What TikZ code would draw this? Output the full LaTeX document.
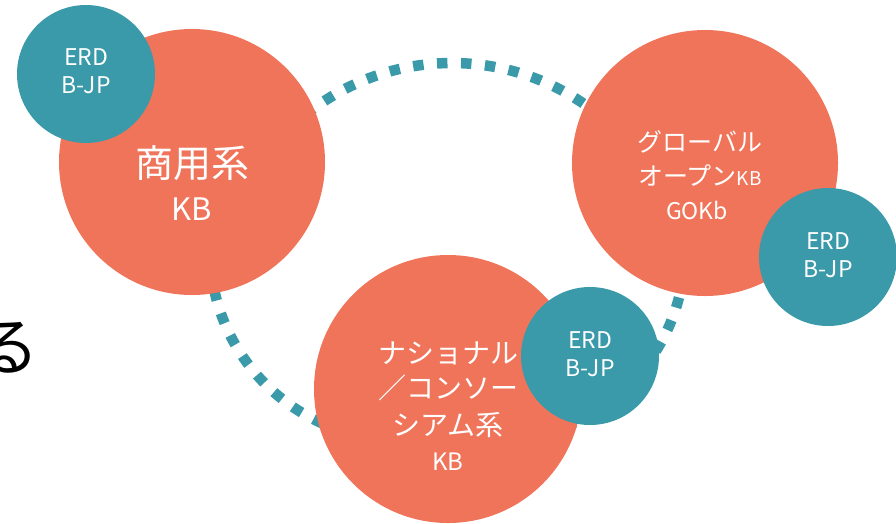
\documentclass[tikz,border=0pt]{standalone}
\usepackage{fontspec}
\setmainfont{Noto Sans CJK JP}
\definecolor{kborange}{HTML}{EF745A}
\definecolor{erdteal}{HTML}{3A9AA9}
\begin{document}
\begin{tikzpicture}[x=1pt,y=-1pt,
  kb/.style={circle,fill=kborange,minimum size=#1,inner sep=0pt},
  erd/.style={circle,fill=erdteal,minimum size=138pt,inner sep=0pt},
  lbl/.style={text=white,inner sep=0pt,anchor=center},
  dots/.style={draw=erdteal,line width=10.5pt,dash pattern=on 10.5pt off 13.5pt}]
\useasboundingbox (0,0) rectangle (896,523);
% partial character at the left edge
\node[inner sep=0pt,anchor=east,font=\fontsize{64}{70}\selectfont] (ru) at (40,348) {る};
% dotted arcs
\coordinate (ctop) at (452,296);
\coordinate (cleft) at (400,250);
\coordinate (cright) at (495,250);
\draw[dots] (ctop) ++(225:233) arc[start angle=225,end angle=315,radius=233];
\draw[dots] (cleft) ++(175:190) arc[start angle=175,end angle=100,radius=190];
\draw[dots] (cright) ++(0:190) arc[start angle=0,end angle=70,radius=190];
% big circles
\node[kb=266pt] (com) at (192,162) {};
\node[kb=266pt] (glo) at (705,163) {};
\node[kb=268pt] (nat) at (448,389) {};
% texts in big circles
\node[lbl,font=\fontsize{38}{46}\selectfont] (comA) at (192,163) {商用系};
\node[lbl,font=\fontsize{31}{36}\selectfont] (comB) at (192,209) {KB};
\node[lbl,font=\fontsize{25}{30}\selectfont] (gloA) at (700,142) {グローバル};
\node[lbl,font=\fontsize{25}{30}\selectfont] (gloB) at (700,176) {オープン{\fontsize{19}{22}\selectfont KB}};
\node[lbl,font=\fontsize{23}{28}\selectfont] (gloC) at (697,210) {GOKb};
\node[lbl,font=\fontsize{28}{34}\selectfont] (natA) at (448,353) {ナショナル};
\node[lbl,font=\fontsize{28}{34}\selectfont] (natB) at (448,388) {／コンソー};
\node[lbl,font=\fontsize{28}{34}\selectfont] (natC) at (448,425) {シアム系};
\node[lbl,font=\fontsize{24}{28}\selectfont] (natD) at (448,462) {KB};
% ERD circles
\node[erd] (e1) at (86,74) {};
\node[erd] (e2) at (828,257) {};
\node[erd] (e3) at (590,356) {};
\node[lbl,font=\fontsize{23}{28}\selectfont] (e1a) at (86,57) {ERD};
\node[lbl,font=\fontsize{23}{28}\selectfont] (e1b) at (86,85) {B-JP};
\node[lbl,font=\fontsize{23}{28}\selectfont] (e2a) at (828,241) {ERD};
\node[lbl,font=\fontsize{23}{28}\selectfont] (e2b) at (828,269) {B-JP};
\node[lbl,font=\fontsize{23}{28}\selectfont] (e3a) at (590,340) {ERD};
\node[lbl,font=\fontsize{23}{28}\selectfont] (e3b) at (590,368) {B-JP};
\end{tikzpicture}
\end{document}
